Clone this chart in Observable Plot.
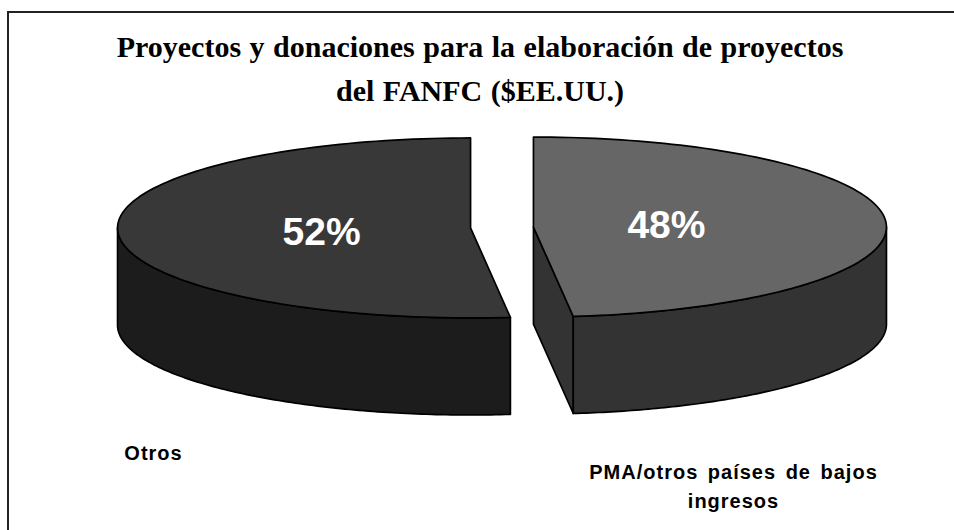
<!DOCTYPE html>
<html><head><meta charset="utf-8">
<script src="https://cdn.jsdelivr.net/npm/d3@7"></script>
<script src="https://cdn.jsdelivr.net/npm/@observablehq/plot@0.6"></script>
<style>
html,body{margin:0;padding:0;background:#fff;}
#page{position:relative;width:954px;height:530px;overflow:hidden;background:#fff;}
#title{position:absolute;left:9px;top:25px;width:942px;text-align:center;font-family:"Liberation Serif","Times New Roman",serif;font-weight:bold;font-size:30px;line-height:44px;word-spacing:1px;color:#000;white-space:nowrap;}
#chart{position:absolute;left:0;top:110px;}
#border{position:absolute;left:7px;top:11px;width:1000px;height:600px;border-top:2px solid #222;border-left:2px solid #222;pointer-events:none;}
</style></head><body>
<div id="page"><div id="title"></div><div id="chart"></div><div id="border"></div></div>
<script>
// ---- data ----
const titleLines = ["Proyectos y donaciones para la elaboración de proyectos", "del FANFC ($EE.UU.)"];
const categories = ["PMA/otros países de bajos ingresos", "Otros"];
const categoryLabels = ["PMA/otros países de bajos\ningresos", "Otros"];
const values = [48.2, 51.8];
const topColors = ["#666666", "#383838"];
const sideColors = ["#333333", "#1c1c1c"];

// ---- layout ----
const SVG_TOP = 110;
const pie = {cx: 501.5, cy: 227, rx: 353, ry: 90, depth: 97, explode: 31.5};
const catLabelPos = [[733, 507], [153, 459]];
const pctNudgeY = [-2.5, 0];

document.getElementById("title").innerHTML = titleLines.map(t => `<div>${t}</div>`).join("");

const total = d3.sum(values);
const N = 120;
let a0 = 0;
const slices = values.map((v, i) => {
  const a1 = a0 + 2 * Math.PI * v / total;
  const mid = (a0 + a1) / 2;
  const ox = pie.cx + pie.explode * Math.sin(mid);
  const oy = pie.cy - pie.explode * Math.cos(mid) * (pie.ry / pie.rx);
  const s = {i, v, a0, a1, mid, ox, oy};
  a0 = a1;
  return s;
});
const P = (s, t, h = 0) => [s.ox + pie.rx * Math.sin(t), s.oy - pie.ry * Math.cos(t) + h];
const arc = (s, t0, t1, h = 0) => d3.range(N + 1).map(k => P(s, t0 + (t1 - t0) * k / N, h));

const polys = [];
for (const s of slices) {
  const apex = [s.ox, s.oy];
  const apexB = [s.ox, s.oy + pie.depth];
  // cut faces that face the viewer
  if (Math.sin(s.a0) < -1e-6) polys.push({fill: sideColors[s.i], pts: [apex, P(s, s.a0), P(s, s.a0, pie.depth), apexB]});
  if (Math.sin(s.a1) > 1e-6) polys.push({fill: sideColors[s.i], pts: [apex, P(s, s.a1), P(s, s.a1, pie.depth), apexB]});
  // outer wall (front half)
  const w0 = Math.max(s.a0, Math.PI / 2), w1 = Math.min(s.a1, 3 * Math.PI / 2);
  if (w1 > w0) polys.push({fill: sideColors[s.i], pts: [...arc(s, w0, w1), ...arc(s, w0, w1, pie.depth).reverse()]});
  // top face
  polys.push({fill: topColors[s.i], pts: [apex, ...arc(s, s.a0, s.a1)]});
}

const pctText = values.map(v => Math.round(v / total * 100) + "%");

const chart = Plot.plot({
  width: 954, height: 420, margin: 0,
  style: {background: "transparent"},
  x: {domain: [0, 954], range: [0, 954], axis: null},
  y: {domain: [SVG_TOP, 530], range: [0, 420], axis: null},
  marks: [
    ...polys.map(p => Plot.line(p.pts, {x: d => d[0], y: d => d[1], fill: p.fill, stroke: "#000", strokeWidth: 1.7, strokeLinejoin: "round", curve: "linear-closed"})),
    Plot.text(slices, {
      x: s => s.ox + 0.4 * pie.rx * Math.sin(s.mid),
      y: s => s.oy - 0.4 * pie.ry * Math.cos(s.mid) + 3 + pctNudgeY[s.i],
      text: (s, i) => pctText[i], dx: -8,
      fill: "#fff", fontSize: 39, fontWeight: "bold", fontFamily: "Liberation Sans, Arial, sans-serif"
    }),
    Plot.text(categoryLabels, {
      x: (d, i) => catLabelPos[i][0], y: (d, i) => catLabelPos[i][1],
      text: d => d, lineAnchor: "bottom", lineHeight: 1.45,
      fill: "#000", fontSize: 20, fontWeight: "bold", fontFamily: "Liberation Sans, Arial, sans-serif",
      ariaDescription: "category labels"
    })
  ]
});
const g = chart.querySelector('g[aria-description="category labels"]');
if (g) { g.style.letterSpacing = "1px"; g.style.wordSpacing = "3px"; }
document.getElementById("chart").appendChild(chart);
</script>
</body></html>
